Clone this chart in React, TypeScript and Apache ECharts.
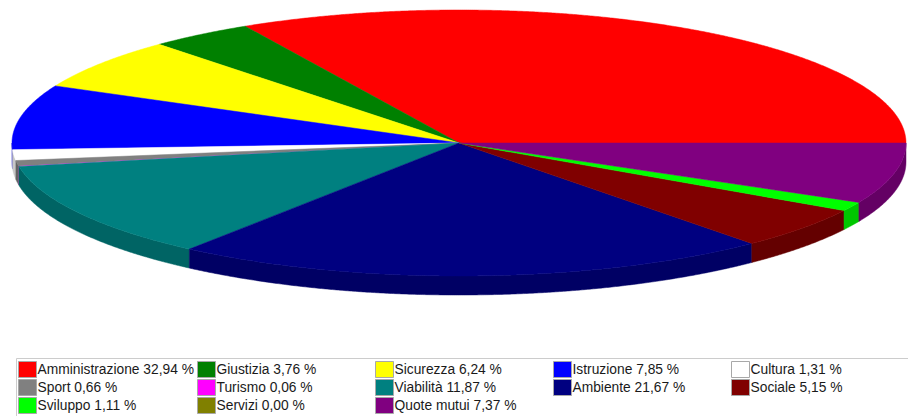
import React, { useEffect, useRef } from "react";
import * as echarts from "echarts";

const categories = [
  "Amministrazione",
  "Giustizia",
  "Sicurezza",
  "Istruzione",
  "Cultura",
  "Sport",
  "Turismo",
  "Viabilità",
  "Ambiente",
  "Sociale",
  "Sviluppo",
  "Servizi",
  "Quote mutui",
];
const shares = [32.94, 3.76, 6.24, 7.85, 1.31, 0.66, 0.06, 11.87, 21.67, 5.15, 1.11, 0.0, 7.37];
const sliceColors = [
  "#ff0000",
  "#008000",
  "#ffff00",
  "#0000ff",
  "#ffffff",
  "#808080",
  "#ff00ff",
  "#008080",
  "#000080",
  "#800000",
  "#00ff00",
  "#808000",
  "#800080",
];

// layout constants
const CX = 459;
const CY = 143;
const RX = 447;
const RY = 133;
const DEPTH = 19;
const LEGEND_X = [18, 197, 375, 553, 731];
const LEGEND_TOP = 361;

function darken(hex: string, f: number): string {
  const n = parseInt(hex.slice(1), 16);
  const r = Math.round(((n >> 16) & 255) * f);
  const g = Math.round(((n >> 8) & 255) * f);
  const b = Math.round((n & 255) * f);
  return `rgb(${r},${g},${b})`;
}

function fmt(v: number): string {
  return v.toFixed(2).replace(".", ",");
}

function arc(a0: number, a1: number, dy: number): number[][] {
  const pts: number[][] = [];
  const step = Math.PI / 720;
  const n = Math.max(1, Math.ceil((a1 - a0) / step));
  for (let k = 0; k <= n; k++) {
    const a = a0 + ((a1 - a0) * k) / n;
    pts.push([CX + RX * Math.cos(a), CY - RY * Math.sin(a) + dy]);
  }
  return pts;
}

export default function App() {
  const ref = useRef<HTMLDivElement>(null);
  useEffect(() => {
    if (!ref.current) return;
    const chart = echarts.init(ref.current, null, { renderer: "svg" });
    const total = shares.reduce((a, b) => a + b, 0);
    const startFrac: number[] = [];
    let acc = 0;
    for (let i = 0; i < shares.length; i++) {
      startFrac.push(acc / total);
      acc += shares[i];
    }

    const series = categories.map((name, i) => ({
      type: "custom",
      name,
      coordinateSystem: "none",
      itemStyle: { color: sliceColors[i] },
      data: [{ name, value: shares[i] }],
      renderItem: (_params: any, api: any) => {
        const v = api.value(0) as number;
        const children: any[] = [];
        if (!(v > 0)) return { type: "group", children };
        const a0 = startFrac[i] * Math.PI * 2;
        const a1 = a0 + (v / total) * Math.PI * 2;
        const s0 = Math.max(a0, Math.PI);
        const s1 = Math.min(a1, Math.PI * 2);
        const lw = v >= 0.5 ? 0.5 : 0;
        if (s1 > s0) {
          const top = arc(s0, s1, 0);
          const bottom = arc(s0, s1, DEPTH).reverse();
          const side = darken(sliceColors[i], 0.78);
          children.push({
            type: "polygon",
            z2: 1,
            shape: { points: top.concat(bottom) },
            style: { fill: side, stroke: lw ? side : "none", lineWidth: lw },
          });
        }
        const face = [[CX, CY]].concat(arc(a0, a1, 0));
        children.push({
          type: "polygon",
          z2: 10,
          shape: { points: face },
          style: { fill: sliceColors[i], stroke: lw ? sliceColors[i] : "none", lineWidth: lw },
        });
        return { type: "group", children };
      },
    }));

    const legends = LEGEND_X.map((x, k) => ({
      orient: "vertical",
      left: x,
      top: LEGEND_TOP,
      padding: 0,
      itemWidth: 18,
      itemHeight: 16,
      itemGap: 1,
      icon: "rect",
      selectedMode: false,
      data: categories.filter((_, idx) => idx % 5 === k),
      itemStyle: { borderColor: "#a8a8a8", borderWidth: 1 },
      textStyle: {
        fontSize: 13.8,
        fontFamily: '"Liberation Sans", Arial, sans-serif',
        color: "#1a1a1a",
        padding: [0, 0, 0, -4],
      },
      formatter: (name: string) => `${name} ${fmt(shares[categories.indexOf(name)])} %`,
    }));

    chart.setOption({
      animation: false,
      backgroundColor: "#ffffff",
      legend: legends,
      graphic: [
        {
          type: "rect",
          z: -1,
          shape: { x: 16.5, y: 358.5, width: 900, height: 80 },
          style: { fill: "none", stroke: "#cccccc", lineWidth: 1 },
        },
      ],
      series,
    });
    return () => chart.dispose();
  }, []);
  return (
    <div
      ref={ref}
      style={{ position: "fixed", left: 0, top: 0, width: 908, height: 416 }}
    />
  );
}
